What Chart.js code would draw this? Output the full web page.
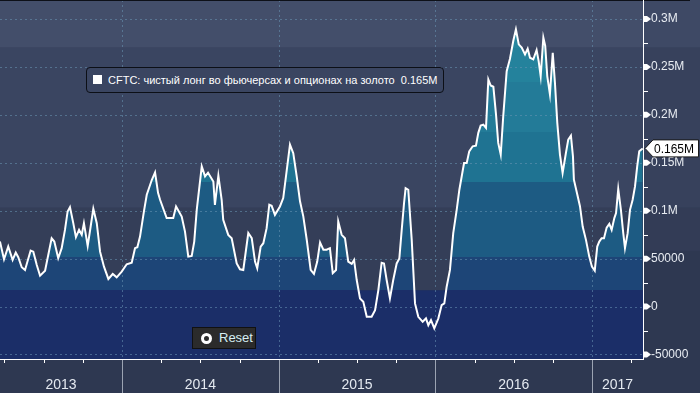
<!DOCTYPE html>
<html>
<head>
<meta charset="utf-8">
<script src="https://cdn.jsdelivr.net/npm/chart.js@4.4.1/dist/chart.umd.min.js"></script>
<style>
  body { margin: 0; background: #2e3851; }
  #wrap { position: relative; width: 700px; height: 393px; }
  #legend {
    position: absolute; left: 86px; top: 67px; width: 358px; height: 26px;
    box-sizing: border-box; border: 1px solid #0c0f16; border-radius: 4px;
    background: #3a4561; color: #fff; font: 11px "Liberation Sans", Arial, sans-serif;
    line-height: 24px; padding-left: 21px; white-space: pre;
  }
  #legend .sq { position: absolute; left: 6px; top: 7px; width: 9px; height: 9px; background: #fff; }
  #reset {
    position: absolute; left: 192px; top: 327px; width: 64px; height: 22px;
    box-sizing: border-box; border: 1px solid #111; background: #2b2b2b;
    color: #d6eef2; font: 13px "Liberation Sans", Arial, sans-serif; line-height: 20px;
    padding-left: 26px;
  }
  #reset .ring {
    position: absolute; left: 8px; top: 5px; width: 5px; height: 5px;
    border: 3px solid #fff; border-radius: 50%;
  }
</style>
</head>
<body>
<div id="wrap">
  <canvas id="goldChart"></canvas>
  <div id="legend"><span class="sq"></span>CFTC: чистый лонг во фьючерсах и опционах на золото  0.165M</div>
  <div id="reset"><span class="ring"></span>Reset</div>
</div>
<script>
// недели (дробный год) и чистый лонг, тыс. контрактов
var dates = [
  2013.221, 2013.247, 2013.274, 2013.302, 2013.322, 2013.338, 2013.360, 2013.381, 2013.417, 2013.434,
  2013.456, 2013.477, 2013.509, 2013.551, 2013.568, 2013.593, 2013.615, 2013.636, 2013.653, 2013.668,
  2013.689, 2013.706, 2013.726, 2013.743, 2013.757, 2013.781, 2013.800, 2013.817, 2013.839, 2013.860,
  2013.885, 2013.913, 2013.941, 2013.966, 2013.998, 2014.030, 2014.062, 2014.083, 2014.098, 2014.115,
  2014.140, 2014.158, 2014.190, 2014.211, 2014.230, 2014.243, 2014.285, 2014.327, 2014.345, 2014.381,
  2014.402, 2014.423, 2014.445, 2014.461, 2014.477, 2014.509, 2014.530, 2014.549, 2014.583, 2014.593,
  2014.615, 2014.636, 2014.646, 2014.678, 2014.700, 2014.732, 2014.753, 2014.774, 2014.806, 2014.828,
  2014.849, 2014.863, 2014.885, 2014.902, 2014.923, 2014.940, 2014.955, 2014.976, 2015.008, 2015.029,
  2015.072, 2015.093, 2015.115, 2015.136, 2015.157, 2015.179, 2015.204, 2015.225, 2015.246, 2015.264,
  2015.285, 2015.306, 2015.327, 2015.345, 2015.366, 2015.380, 2015.402, 2015.423, 2015.444, 2015.466,
  2015.481, 2015.498, 2015.519, 2015.540, 2015.562, 2015.593, 2015.615, 2015.636, 2015.657, 2015.672,
  2015.689, 2015.710, 2015.731, 2015.753, 2015.770, 2015.785, 2015.800, 2015.810, 2015.827, 2015.849,
  2015.870, 2015.891, 2015.919, 2015.940, 2015.955, 2015.972, 2015.993, 2016.019, 2016.040, 2016.057,
  2016.072, 2016.093, 2016.114, 2016.136, 2016.153, 2016.183, 2016.200, 2016.216, 2016.238, 2016.259,
  2016.274, 2016.289, 2016.306, 2016.323, 2016.338, 2016.353, 2016.370, 2016.387, 2016.401, 2016.417,
  2016.433, 2016.455, 2016.476, 2016.497, 2016.514, 2016.532, 2016.551, 2016.572, 2016.589, 2016.604,
  2016.625, 2016.646, 2016.659, 2016.672, 2016.689, 2016.701, 2016.714, 2016.731, 2016.749, 2016.763,
  2016.778, 2016.795, 2016.812, 2016.833, 2016.848, 2016.865, 2016.878, 2016.884, 2016.906, 2016.923,
  2016.940, 2016.961, 2016.982, 2016.999, 2017.017, 2017.033, 2017.046, 2017.061, 2017.076, 2017.093,
  2017.110, 2017.125, 2017.142, 2017.153, 2017.167, 2017.184, 2017.199, 2017.210, 2017.227, 2017.242,
  2017.259, 2017.274, 2017.288, 2017.301, 2017.323
];
var netLong = [
  67.8, 49.4, 62.6, 48.6, 56.3, 51.5, 41.0, 38.2, 58.4, 57.3,
  43.4, 32.2, 37.4, 71.3, 67.8, 50.4, 60.9, 80.0, 99.2, 103.8,
  87.0, 72.4, 80.0, 74.8, 87.0, 63.3, 83.5, 102.0, 87.0, 57.3,
  41.6, 28.8, 34.0, 30.5, 36.4, 44.1, 45.8, 60.9, 61.9, 73.0,
  99.2, 116.6, 132.0, 140.0, 118.7, 111.4, 92.3, 92.3, 104.4, 93.9,
  78.2, 52.1, 52.8, 67.8, 100.9, 146.2, 135.8, 139.6, 130.5, 106.0,
  136.5, 111.4, 90.4, 74.8, 71.3, 45.0, 38.9, 38.2, 76.7, 71.3,
  46.9, 40.0, 62.6, 66.1, 81.8, 106.2, 105.1, 95.7, 104.4, 113.2,
  168.9, 160.0, 135.8, 109.8, 94.1, 69.7, 38.2, 34.0, 46.9, 66.9,
  59.3, 59.3, 60.9, 34.9, 38.2, 88.7, 74.8, 71.3, 46.9, 44.5,
  48.6, 27.7, 8.5, 5.0, -10.6, -10.6, -3.7, 17.2, 45.7, 45.0,
  27.7, 8.5, 27.7, 45.0, 50.2, 79.8, 107.9, 123.6, 121.9, 69.6,
  3.3, -10.7, -15.9, -12.3, -19.4, -14.1, -22.8, -12.3, 1.6, 3.3,
  20.7, 38.2, 76.6, 100.9, 121.9, 149.8, 149.8, 161.9, 167.2, 167.9,
  181.2, 188.8, 189.8, 186.4, 236.9, 230.6, 229.3, 200.3, 170.7, 158.5,
  198.5, 245.6, 258.6, 277.0, 289.2, 273.5, 270.1, 263.1, 269.0, 259.6,
  257.8, 267.6, 256.1, 240.4, 280.5, 271.8, 240.4, 221.3, 264.8, 233.5,
  191.6, 158.5, 139.3, 160.2, 174.2, 178.3, 156.7, 132.3, 116.6, 104.4,
  83.5, 69.6, 52.1, 41.6, 37.4, 62.6, 67.8, 71.3, 71.3, 82.4,
  86.3, 80.0, 92.3, 97.5, 122.6, 100.9, 76.6, 60.9, 76.6, 100.9,
  111.4, 125.3, 146.2, 161.9, 165.0
];
var yTicks = [-50000, 0, 50000, 100000, 150000, 200000, 250000, 300000];
var yTickLabels = ['-50000', '0', '50000', '0.1M', '0.15M', '0.2M', '0.25M', '0.3M'];
var years = [2013, 2014, 2015, 2016, 2017];
var yearLabels = ['2013', '2014', '2015', '2016', '2017'];
var lastLabel = '0.165M';

var points = dates.map(function (d, i) { return {x: d, y: netLong[i] * 1000}; });

var fillBands = [
  {to: 270000, color: '#27879f'},
  {to: 234000, color: '#24829c'},
  {to: 182000, color: '#237b98'},
  {to: 130000, color: '#1f7392'},
  {to: 52000, color: '#1d5b83'},
  {to: 17000, color: '#1d4577'},
  {to: -1e9, color: '#1b2e68'}
];
var bgBands = [
  {to: 270000, color: '#434e6a'},
  {to: 103000, color: '#3a4561'},
  {to: 17000, color: '#343e58'},
  {to: -1e9, color: '#1b2e68'}
];
var sideBands = [
  {to: 270000, color: '#3e4965'},
  {to: 103000, color: '#37415c'},
  {to: 58000, color: '#333c56'},
  {to: -1e9, color: '#2e3851'}
];

function bandGradient(chart, bands) {
  var area = chart.chartArea, y = chart.scales.y;
  var h = area.bottom - area.top;
  var g = chart.ctx.createLinearGradient(0, area.top, 0, area.bottom);
  var prev = 0;
  bands.forEach(function (b) {
    var stop = (y.getPixelForValue(b.to) - area.top) / h;
    stop = Math.min(Math.max(stop, 0), 1);
    g.addColorStop(prev, b.color);
    g.addColorStop(stop, b.color);
    prev = stop;
  });
  return g;
}

function fillBandRects(chart, bands, left, right) {
  var ctx = chart.ctx, area = chart.chartArea, y = chart.scales.y;
  var top = area.top;
  bands.forEach(function (b) {
    var bottom = Math.min(Math.max(y.getPixelForValue(b.to), area.top), area.bottom);
    ctx.fillStyle = b.color;
    ctx.fillRect(left, top, right - left, bottom - top);
    top = bottom;
  });
}

var bloombergLook = {
  id: 'bloombergLook',
  beforeDraw: function (chart) {
    var ctx = chart.ctx, area = chart.chartArea;
    ctx.save();
    ctx.fillStyle = '#2e3851';
    ctx.fillRect(0, 0, chart.width, chart.height);
    fillBandRects(chart, sideBands, area.right, chart.width);
    fillBandRects(chart, bgBands, area.left, area.right);
    ctx.restore();
  },
  afterDatasetDraw: function (chart, args) {
    if (args.index !== 0) return;
    var ctx = chart.ctx, area = chart.chartArea, x = chart.scales.x, y = chart.scales.y;
    ctx.save();
    ctx.strokeStyle = 'rgba(105,150,180,0.55)';
    ctx.lineWidth = 1;
    ctx.setLineDash([2, 3]);
    yTicks.forEach(function (v) {
      var py = Math.round(y.getPixelForValue(v)) + 0.5;
      ctx.beginPath(); ctx.moveTo(area.left, py); ctx.lineTo(area.right, py); ctx.stroke();
    });
    years.forEach(function (v) {
      var px = Math.round(x.getPixelForValue(v)) + 0.5;
      if (px < area.left || px > area.right) return;
      ctx.beginPath(); ctx.moveTo(px, area.top); ctx.lineTo(px, area.bottom); ctx.stroke();
    });
    ctx.restore();
  },
  afterDraw: function (chart) {
    var ctx = chart.ctx, area = chart.chartArea, x = chart.scales.x, y = chart.scales.y;
    ctx.save();
    // top strip
    ctx.fillStyle = '#0d1018';
    ctx.fillRect(0, 0, 690, 1);
    // axes
    ctx.strokeStyle = '#ffffff';
    ctx.lineWidth = 1;
    ctx.beginPath();
    ctx.moveTo(area.right + 0.5, area.top);
    ctx.lineTo(area.right + 0.5, area.bottom + 1);
    ctx.moveTo(area.left, area.bottom + 0.5);
    ctx.lineTo(area.right + 1, area.bottom + 0.5);
    ctx.stroke();
    // y markers
    ctx.fillStyle = '#ffffff';
    yTicks.forEach(function (v) {
      var py = y.getPixelForValue(v);
      ctx.beginPath();
      ctx.moveTo(area.right + 1, py - 3);
      ctx.lineTo(area.right + 4, py - 3);
      ctx.lineTo(area.right + 8, py);
      ctx.lineTo(area.right + 4, py + 3);
      ctx.lineTo(area.right + 1, py + 3);
      ctx.closePath();
      ctx.fill();
      var mid = v + 25000;
      if (mid < y.max) {
        var pm = Math.round(y.getPixelForValue(mid)) + 0.5;
        ctx.beginPath(); ctx.moveTo(area.right, pm); ctx.lineTo(area.right + 5, pm); ctx.stroke();
      }
    });
    // x ticks per quarter
    years.forEach(function (yr) {
      for (var q = 0; q < 4; q++) {
        var px = Math.round(x.getPixelForValue(yr + q / 4)) + 0.5;
        if (px < area.left || px > area.right) continue;
        if (q === 0) {
          ctx.strokeStyle = '#9ba3b2';
          ctx.beginPath(); ctx.moveTo(px, area.bottom + 1); ctx.lineTo(px, chart.height); ctx.stroke();
        } else {
          ctx.strokeStyle = '#ffffff';
          ctx.beginPath(); ctx.moveTo(px, area.bottom + 1); ctx.lineTo(px, area.bottom + 4); ctx.stroke();
        }
      }
    });
    // year labels centred in the visible part of each year
    ctx.fillStyle = '#e4e9f0';
    ctx.font = '14px "Liberation Sans", Arial, sans-serif';
    ctx.textAlign = 'center';
    ctx.textBaseline = 'middle';
    years.forEach(function (yr, i) {
      var a = Math.max(x.getPixelForValue(yr), area.left);
      var b = Math.min(x.getPixelForValue(yr + 1), area.right);
      if (b - a < 20) return;
      ctx.fillText(yearLabels[i], (a + b) / 2, area.bottom + 26);
    });
    // last value box
    var lv = netLong[netLong.length - 1] * 1000;
    var ly = y.getPixelForValue(lv);
    var lx = area.right + 2;
    ctx.beginPath();
    ctx.moveTo(lx, ly);
    ctx.lineTo(lx + 8, ly - 8.5);
    ctx.lineTo(698.5, ly - 8.5);
    ctx.lineTo(698.5, ly + 8.5);
    ctx.lineTo(lx + 8, ly + 8.5);
    ctx.closePath();
    ctx.fillStyle = '#ffffff';
    ctx.fill();
    ctx.strokeStyle = '#1a1a1a';
    ctx.stroke();
    ctx.fillStyle = '#000000';
    ctx.font = '12px "Liberation Sans", Arial, sans-serif';
    ctx.textAlign = 'left';
    ctx.fillText(lastLabel, lx + 9, ly + 1);
    ctx.restore();
  }
};

new Chart(document.getElementById('goldChart'), {
  type: 'line',
  data: {
    datasets: [
      {
        data: points,
        order: 2,
        borderWidth: 0,
        pointRadius: 0,
        fill: 'start',
        backgroundColor: function (context) {
          var chart = context.chart;
          if (!chart.chartArea) return '#1d5b83';
          return bandGradient(chart, fillBands);
        }
      },
      {
        data: points,
        order: 1,
        borderColor: '#ffffff',
        borderWidth: 2,
        pointRadius: 0,
        tension: 0,
        fill: false
      }
    ]
  },
  options: {
    responsive: true,
    maintainAspectRatio: false,
    animation: false,
    layout: { padding: { left: 0, top: 0, right: 0, bottom: 34 } },
    plugins: { legend: { display: false }, tooltip: { enabled: false } },
    scales: {
      x: { type: 'linear', min: 2013.2214, max: 2017.325, display: false },
      y: {
        type: 'linear',
        position: 'right',
        min: -54700,
        max: 319800,
        grid: { display: false, drawTicks: false, tickLength: 0 },
        border: { display: false },
        afterBuildTicks: function (s) {
          s.ticks = yTicks.map(function (v) { return {value: v}; });
        },
        afterFit: function (s) {
          s.width = 57;
          s.paddingTop = 0;
          s.paddingBottom = 0;
        },
        ticks: {
          autoSkip: false,
          padding: 8,
          color: '#e8ecf2',
          font: { family: '"Liberation Sans", Arial, sans-serif', size: 12 },
          callback: function (v) {
            var i = yTicks.indexOf(v);
            return i >= 0 ? yTickLabels[i] : '';
          }
        }
      }
    }
  },
  plugins: [bloombergLook]
});
</script>
</body>
</html>
